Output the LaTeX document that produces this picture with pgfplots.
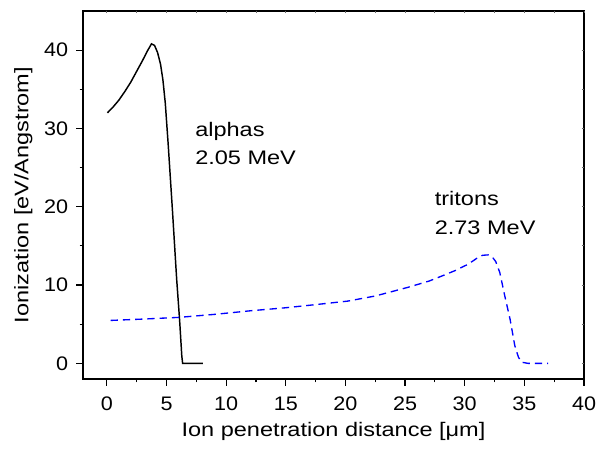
\documentclass[border=0pt]{standalone}
\usepackage{pgfplots}
\pgfplotsset{compat=1.18}
\usepackage{fontspec}
\setmainfont{Liberation Sans}[FakeStretch=1.2]
\newfontfamily\tickfamily{Liberation Sans}[FakeStretch=1.1]
\newcommand{\chartfont}{\fontsize{14.7}{17}\selectfont}
\newcommand{\tickfont}{\tickfamily\fontsize{14.7}{17}\selectfont}
\begin{document}
\begin{tikzpicture}
\begin{axis}[
  name=ax,
  scale only axis,
  width=375.75pt, height=276pt,
  xmin=-2, xmax=40, ymin=-2, ymax=45,
  xtick={0,5,...,40}, ytick={0,10,20,30,40},
  minor x tick num=1, minor y tick num=1,
  tick align=outside, tick pos=left,
  major tick length=5pt, minor tick length=2.5pt,
  axis line style={line width=1.1pt},
  every tick/.style={line width=0.9pt, black},
  /pgf/number format/assume math mode=true,
  ticklabel style={font=\tickfont},
  xticklabel style={anchor=north, inner sep=0pt, yshift=-8.5pt},
  yticklabel style={anchor=east, inner sep=0pt, xshift=-6pt},
  label style={font=\chartfont},
  xlabel={Ion penetration distance [μm]},
  ylabel={Ionization [eV/Angstrom]},
  xlabel style={at={(axis description cs:0.5,-0.157)}, anchor=base},
  ylabel style={at={(axis description cs:-0.109,0.5)}, anchor=base},
  clip=false,
]
\addplot[black, line width=1.1pt] coordinates {
(0.05,32.0) (0.5,32.7) (1.0,33.6) (1.5,34.7) (2.0,35.9) (2.5,37.3) (3.0,38.7)
(3.4,39.9) (3.74,40.8) (4.0,40.6) (4.25,39.7) (4.5,38.2) (4.7,36.2) (4.9,33.2)
(5.14,28.0) (5.5,19.5) (5.85,10.8) (6.1,5.5) (6.28,1.0) (6.35,0) (8.04,0)
};
\addplot[color={rgb,255:red,0;green,0;blue,255}, line width=1pt, dash pattern=on 5.5pt off 3.7pt] coordinates {
(0.31,5.48) (3,5.65) (6.04,5.87) (9,6.25) (12.02,6.71) (15,7.1) (17.5,7.5)
(20.2,7.95) (22.5,8.6) (25.2,9.69) (27,10.5) (28.0,11.1) (29.2,11.85) (30.3,12.67)
(31.0,13.4) (31.5,13.8) (31.96,13.85) (32.3,13.6) (32.6,13.0) (32.94,11.6)
(33.36,8.6) (33.8,5.65) (34.2,2.25) (34.5,0.8) (34.75,0.15) (35.3,0) (37.0,0)
};
\node[anchor=base west, inner sep=0pt, font=\chartfont] at (axis cs:7.39,29.0) {alphas};
\node[anchor=base west, inner sep=0pt, font=\chartfont] at (axis cs:7.39,25.4) {2.05 MeV};
\node[anchor=base west, inner sep=0pt, font=\chartfont] at (axis cs:27.47,20.1) {tritons};
\node[anchor=base west, inner sep=0pt, font=\chartfont] at (axis cs:27.47,16.5) {2.73 MeV};
\end{axis}
\begin{axis}[
  scale only axis,
  width=375.75pt, height=276pt,
  xmin=-2, xmax=40, ymin=-2, ymax=45,
  xtick={0,5,...,40}, ytick={0,10,20,30,40},
  minor x tick num=1, minor y tick num=1,
  axis line style={draw=none},
  tick align=inside, xtick pos=right, ytick pos=right,
  major tick length=1.5pt, minor tick length=1.2pt,
  every tick/.style={line width=0.6pt, black!60},
  xticklabels={}, yticklabels={},
]
\end{axis}
\pgfresetboundingbox
\path[use as bounding box] ([shift={(-62.25pt,-57pt)}]ax.south west) rectangle ([shift={(14.25pt,8.25pt)}]ax.north east);
\end{tikzpicture}
\end{document}
